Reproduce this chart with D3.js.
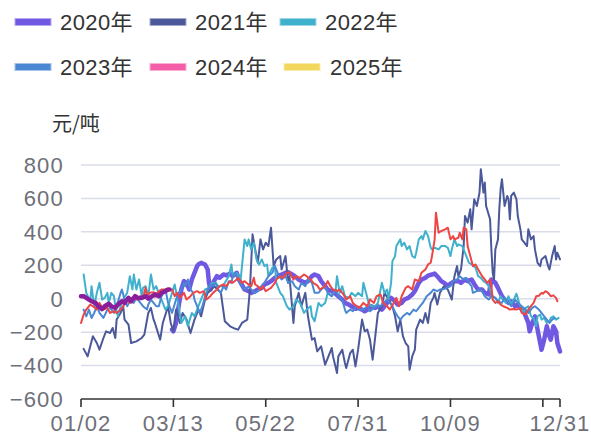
<!DOCTYPE html>
<html><head><meta charset="utf-8">
<script src="https://cdn.jsdelivr.net/npm/d3@7/dist/d3.min.js"></script>
<style>
html,body{margin:0;padding:0;background:#fff;}
svg{display:block;}
text{font-family:"Liberation Sans","Noto Sans CJK SC",sans-serif;}
</style></head>
<body><svg id="c" width="591" height="436"></svg>
<script>
// days counted from 01/02 (day 0) to 12/31 (day 363)
const tickDays = [0, 70, 140, 210, 280, 350, 363];
const tickLabels = ["01/02", "03/13", "05/22", "07/31", "10/09", "", "12/31"];
const yTicks = [800, 600, 400, 200, 0, -200, -400, -600];
const yTickLabels = ["800", "600", "400", "200", "0", "−200", "−400", "−600"];
const seriesNames = ["2020年", "2021年", "2022年", "2023年", "2024年", "2025年"];
const legendColors = ["#7158e2", "#4b5899", "#3fb1cc", "#4a88d4", "#f45ea6", "#f3d65c"];
const lineColors = ["#7158e2", "#4b5899", "#3fb1cc", "#4a88d4", "#ee4545", "#8a1f9c"];

const s2020 = [[69,-185],[70,-195],[72,-145],[74,-45],[76,55],[78,105],[80,95],[82,55],[84,115],[86,155],[88,195],[89,205],[91,215],[94,205],[96,175],[97,95],[98,55],[100,95],[103,135],[105,125],[108,145],[110,140],[113,150],[115,135],[118,155],[120,110],[124,55],[127,45],[129,35],[132,45],[134,55],[137,65],[139,85],[142,95],[144,105],[147,125],[149,135],[152,145],[155,155],[157,158],[160,145],[162,135],[165,115],[167,105],[170,95],[172,105],[175,135],[177,145],[180,135],[182,105],[185,75],[187,55],[190,45],[192,35],[195,15],[198,-5],[200,-25],[203,-35],[205,-45],[208,-60],[210,-55],[213,-65],[215,-75],[218,-60],[220,-45],[223,-55],[225,-45],[228,-65],[230,-45],[233,-15],[235,5],[238,-15],[240,-35],[243,-25],[245,-5],[248,5],[251,25],[253,45],[256,95],[258,115],[261,125],[263,138],[266,145],[268,150],[271,125],[273,105],[276,90],[278,78],[281,95],[283,105],[286,105],[288,95],[291,115],[293,105],[296,115],[299,75],[301,55],[304,55],[306,35],[309,25],[311,115],[314,95],[316,65],[319,15],[321,-5],[324,-25],[326,-15],[329,-45],[331,-35],[334,-65],[336,-85],[339,-145],[340,-195],[342,-145],[344,-105],[346,-185],[348,-265],[349,-305],[351,-245],[353,-165],[355,-225],[356,-245],[358,-165],[360,-195],[361,-265],[363,-315]];

const s2021 = [[2,-300],[5,-345],[9,-225],[12,-265],[14,-305],[17,-235],[19,-195],[22,-205],[24,-175],[26,-235],[27,-125],[30,-85],[32,-45],[33,-125],[36,-155],[38,-265],[42,-255],[46,-235],[48,-215],[51,-85],[53,-55],[55,-125],[56,-145],[60,-245],[62,-145],[66,-45],[68,-145],[70,-195],[72,-65],[75,-145],[77,-85],[80,-125],[83,-205],[86,-125],[89,-65],[91,-105],[94,-5],[96,35],[99,55],[101,75],[106,35],[109,-135],[113,-165],[117,-180],[119,-185],[122,-145],[126,-125],[128,55],[130,385],[132,295],[134,215],[136,355],[138,295],[140,335],[142,315],[144,425],[146,195],[148,235],[151,255],[152,175],[155,255],[157,95],[158,135],[161,-145],[162,-45],[165,35],[167,-45],[170,35],[172,-105],[175,-245],[177,-235],[179,-315],[182,-285],[185,-395],[187,-355],[190,-295],[191,-345],[194,-445],[195,-345],[198,-305],[200,-385],[201,-415],[204,-325],[206,-305],[208,-405],[210,-305],[213,-125],[215,-195],[217,-185],[219,-245],[221,-365],[223,-225],[225,-85],[228,-45],[230,35],[233,-5],[236,-45],[238,-105],[240,-195],[242,-125],[244,-225],[246,-265],[248,-285],[249,-425],[251,-345],[253,-305],[254,-185],[257,-125],[259,-145],[261,-85],[263,-145],[265,-25],[267,5],[268,35],[270,-35],[272,35],[275,75],[278,55],[281,-5],[283,135],[285,195],[286,135],[288,175],[290,315],[291,495],[293,455],[295,535],[296,415],[298,595],[300,555],[302,635],[303,775],[305,635],[306,695],[307,555],[310,475],[311,295],[312,155],[313,115],[314,295],[316,355],[317,535],[318,655],[319,715],[321,555],[323,615],[324,595],[325,475],[326,615],[328,635],[330,595],[331,495],[333,415],[334,355],[336,335],[338,315],[339,415],[341,355],[343,375],[344,295],[346,215],[348,195],[349,235],[352,255],[354,195],[355,175],[357,255],[359,315],[360,235],[361,275],[363,235]];

const s2022 = [[2,145],[4,35],[7,-15],[8,75],[10,-45],[12,35],[14,95],[16,-5],[18,5],[20,35],[21,-25],[23,35],[25,15],[26,-45],[28,-105],[30,-45],[32,-5],[35,35],[37,135],[39,55],[40,145],[42,55],[44,115],[46,15],[47,65],[49,75],[51,15],[53,145],[55,55],[57,75],[60,5],[61,-5],[64,-65],[66,-45],[69,35],[71,85],[74,-45],[76,-145],[79,-105],[81,-165],[84,-85],[86,-105],[89,-45],[92,15],[94,55],[97,65],[99,95],[102,95],[104,75],[107,75],[109,95],[112,135],[114,205],[115,135],[118,155],[121,115],[124,355],[126,315],[127,355],[129,295],[131,335],[133,235],[135,205],[137,235],[139,195],[141,205],[142,135],[145,185],[147,195],[148,95],[151,35],[153,15],[156,-45],[158,-65],[161,-45],[163,-5],[166,-25],[169,-85],[171,-65],[174,-45],[175,-105],[177,-135],[180,-25],[182,-45],[185,-25],[187,35],[190,15],[193,55],[194,135],[196,35],[198,75],[200,15],[203,5],[205,35],[208,15],[210,35],[213,15],[214,95],[216,35],[218,-25],[220,-45],[223,-45],[225,-25],[228,95],[230,35],[232,55],[233,-5],[235,95],[236,225],[238,255],[239,315],[242,355],[243,315],[245,335],[247,295],[249,315],[251,255],[253,245],[254,275],[256,355],[258,375],[259,355],[261,405],[263,375],[265,305],[266,295],[268,305],[271,295],[273,315],[276,315],[278,305],[280,255],[281,295],[283,355],[285,315],[286,325],[289,315],[291,275],[294,215],[296,205],[299,185],[301,135],[303,125],[305,105],[307,95],[309,75],[311,35],[312,15],[314,5],[316,-25],[318,15],[320,-5],[322,-25],[324,15],[326,-35],[328,-5],[330,30],[332,-25],[333,-45],[335,-85],[337,-55],[339,-45],[341,-105],[343,-115],[345,-165],[346,-105],[348,-95],[349,-125],[351,-115],[353,-145],[355,-135],[356,-115],[358,-105],[360,-125],[362,-115]];

const s2023 = [[2,-65],[4,-105],[6,-65],[8,-115],[10,-85],[12,-45],[14,-85],[17,-115],[20,-65],[22,-55],[25,-85],[27,-45],[30,35],[31,55],[33,-5],[35,-45],[37,-15],[40,-25],[42,5],[45,-25],[47,-45],[50,-65],[51,-35],[53,-5],[55,-25],[57,-45],[59,-45],[61,15],[64,55],[66,-25],[69,-85],[72,-5],[74,35],[76,55],[78,95],[79,75],[81,115],[83,55],[85,35],[86,-5],[88,-45],[90,-85],[92,-45],[94,15],[96,55],[98,85],[100,75],[102,95],[104,55],[106,35],[108,75],[110,55],[112,105],[114,95],[115,135],[117,155],[119,115],[122,75],[124,55],[127,75],[129,55],[132,35],[134,45],[137,75],[139,95],[142,135],[145,155],[147,195],[150,135],[152,115],[155,135],[157,95],[160,105],[162,75],[165,55],[167,95],[170,75],[172,115],[175,95],[177,35],[180,35],[182,55],[185,75],[187,35],[190,15],[193,55],[195,15],[198,-5],[200,-65],[201,-85],[204,-65],[206,-75],[209,-45],[211,-65],[214,-65],[217,-45],[219,-75],[222,-55],[224,-45],[227,-45],[229,-25],[232,-5],[234,-25],[236,-45],[238,-80],[240,-105],[242,-125],[244,-105],[247,-85],[249,-95],[252,-65],[254,-75],[257,-45],[259,-25],[262,15],[265,35],[267,55],[270,45],[272,55],[275,58],[277,65],[280,75],[282,105],[285,115],[287,135],[290,115],[292,125],[294,95],[296,75],[297,35],[300,45],[302,55],[304,45],[306,15],[309,-5],[311,15],[314,5],[316,-15],[319,-25],[321,5],[324,-25],[326,-45],[329,-5],[331,-25],[334,-45],[337,-65],[339,-85],[342,-55],[344,-45],[347,-65],[349,-85],[351,-105],[353,-125],[355,-145],[357,-125],[359,-115]];

const s2024 = [[0,-145],[2,-95],[4,-65],[7,-35],[9,-45],[12,-65],[14,-25],[17,-65],[20,-55],[22,-85],[25,-75],[27,-85],[30,-65],[32,-45],[35,-5],[37,-25],[40,5],[42,-5],[45,15],[47,5],[49,65],[50,15],[52,35],[55,38],[57,30],[59,45],[61,55],[64,55],[66,58],[69,55],[71,15],[73,35],[75,5],[78,35],[80,-5],[83,15],[85,35],[88,45],[90,35],[93,45],[95,-5],[98,15],[100,35],[103,55],[105,75],[108,85],[110,75],[113,105],[115,95],[118,115],[119,125],[122,95],[124,105],[127,85],[129,75],[131,125],[132,85],[134,75],[136,55],[138,75],[140,45],[142,55],[144,65],[147,95],[148,115],[151,135],[153,125],[156,155],[158,158],[161,115],[163,135],[166,125],[169,145],[171,135],[174,115],[176,95],[179,80],[181,55],[183,65],[185,75],[187,105],[189,75],[191,55],[194,45],[196,55],[199,25],[201,-5],[204,15],[206,-25],[209,-45],[211,-55],[214,-25],[217,-45],[219,-5],[222,-25],[224,15],[227,25],[229,-25],[232,-45],[234,-65],[237,-25],[239,5],[241,-45],[243,15],[246,65],[248,75],[251,55],[253,115],[256,105],[258,155],[261,175],[263,205],[265,215],[266,255],[268,355],[269,515],[271,395],[273,405],[276,415],[278,425],[280,355],[282,375],[283,355],[286,365],[287,395],[289,355],[290,425],[292,415],[293,315],[295,255],[297,195],[299,205],[301,175],[304,135],[306,115],[308,95],[310,115],[311,75],[312,-5],[314,-25],[316,-15],[318,-35],[320,-45],[323,-55],[325,-65],[328,-62],[330,-65],[333,-55],[334,-85],[337,-95],[339,-65],[341,-45],[343,-25],[345,15],[347,18],[349,35],[350,30],[352,45],[354,35],[356,15],[358,20],[360,5],[361,-15]];

const s2025 = [[0,15],[2,15],[6,-5],[8,-15],[11,-25],[13,-45],[16,-62],[18,-45],[21,-30],[23,-45],[26,-55],[28,-35],[31,-15],[33,-25],[36,5],[38,-15],[41,15],[43,5],[46,5],[49,15],[51,0],[54,15],[56,25],[59,15],[61,35],[64,45],[66,55],[67,55]];

const allSeries = [s2020, s2021, s2022, s2023, s2024, s2025];
const widths = [4.5, 2, 2, 2, 2, 4.5];

const svg = d3.select("#c");
const x = d3.scaleLinear().domain([0, 363]).range([81, 560]);
const y = d3.scaleLinear().domain([-600, 800]).range([399, 165]);

// gridlines
svg.append("g").selectAll("line").data(yTicks.filter(v => v !== -600)).join("line")
  .attr("x1", x(0)).attr("x2", x(363))
  .attr("y1", d => y(d)).attr("y2", d => y(d))
  .attr("stroke", "#dadde9").attr("stroke-width", 1.5);

// y labels
svg.append("g").selectAll("text").data(yTicks).join("text")
  .attr("x", 64).attr("y", d => y(d)).attr("dy", "0.36em")
  .attr("text-anchor", "end").attr("font-size", 22).attr("fill", "#6e7079")
  .style("letter-spacing", "1.2px")
  .text((d, i) => yTickLabels[i]);

// unit label
svg.append("text").attr("x", 52).attr("y", 131).attr("font-size", 20)
  .attr("fill", "#333").style("font-family", "'Noto Sans CJK SC',sans-serif").text("元/吨");

// lines
const line = d3.line().x(d => x(d[0])).y(d => y(d[1])).curve(d3.curveLinear);
svg.append("g").selectAll("path").data(allSeries).join("path")
  .attr("d", d => line(d)).attr("fill", "none")
  .attr("stroke", (d, i) => lineColors[i]).attr("stroke-width", (d, i) => widths[i])
  .attr("stroke-linejoin", "round").attr("stroke-linecap", "round");

// x axis
const xAxis = svg.append("g");
xAxis.append("line").attr("x1", x(0)).attr("x2", x(363)).attr("y1", 399).attr("y2", 399)
  .attr("stroke", "#333").attr("stroke-width", 1.6);
xAxis.selectAll("line.t").data(tickDays).join("line").attr("class", "t")
  .attr("x1", d => x(d)).attr("x2", d => x(d)).attr("y1", 399).attr("y2", 407)
  .attr("stroke", "#333").attr("stroke-width", 1.6);
xAxis.selectAll("text").data(tickDays).join("text")
  .attr("x", d => x(d)).attr("y", 431).attr("text-anchor", "middle")
  .attr("font-size", 22).attr("fill", "#6e7079").style("letter-spacing", "1.2px")
  .text((d, i) => tickLabels[i]);

// legend
const legPos = [[15, 22, 60], [150, 22, 195], [280, 22, 325], [15, 67, 60], [150, 67, 195], [284, 67, 330]];
const leg = svg.append("g").selectAll("g").data(seriesNames).join("g");
leg.append("rect")
  .attr("x", (d, i) => legPos[i][0]).attr("y", (d, i) => legPos[i][1] - 3.5)
  .attr("width", 36).attr("height", 7)
  .attr("fill", (d, i) => legendColors[i])
  .attr("stroke", (d, i) => d3.interpolateRgb(legendColors[i], "#fff")(0.5)).attr("stroke-width", 1);
leg.append("text")
  .attr("x", (d, i) => legPos[i][2]).attr("y", (d, i) => legPos[i][1]).attr("dy", "0.36em")
  .attr("font-size", 22).attr("fill", "#333").style("letter-spacing", "0.4px")
  .text(d => d);
</script></body></html>
